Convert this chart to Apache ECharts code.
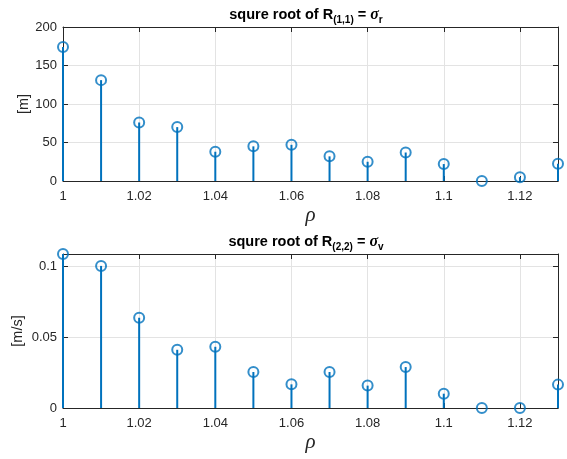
<!DOCTYPE html>
<html>
<head>
<meta charset="utf-8">
<script src="https://cdn.jsdelivr.net/npm/echarts@6/dist/echarts.min.js"></script>
<style>html,body{margin:0;padding:0;background:#fff}#c{width:567px;height:459px}</style>
</head>
<body>
<div id="c"></div>
<script>
// ---- data ----
const rho = [1.00, 1.01, 1.02, 1.03, 1.04, 1.05, 1.06, 1.07, 1.08, 1.09, 1.10, 1.11, 1.12, 1.13];
const sigmaR = [174, 131, 76, 70, 38, 45, 47, 32, 25, 37, 22, 0, 5, 22.5];
const sigmaV = [0.1087, 0.1003, 0.0637, 0.0411, 0.0432, 0.0254, 0.0167, 0.0254, 0.0158, 0.0289, 0.0101, 0, 0, 0.0165];
const xMin = 1.00, xMax = 1.13, xStep = 0.02;
const yTopTicks = [0, 50, 100, 150, 200];
const yBotTicks = [0, 0.05, 0.1];
const yBotMax = 0.1087;
const xName = 'ρ';
const yTopName = '[m]';
const yBotName = '[m/s]';

const BLUE = '#0072BD';
const AX = '#262626';
const GRIDC = '#e3e3e3';
const FONT = 'Liberation Sans, Arial, sans-serif';

const chart = echarts.init(document.getElementById('c'), null, {renderer: 'canvas'});

function pairs(ys) { return rho.map((x, i) => [x, ys[i]]); }

function titleRich() {
  return {
    b: {fontFamily: FONT, fontWeight: 'bold', fontSize: 14.5, color: '#000', lineHeight: 16, verticalAlign: 'top'},
    sub: {fontFamily: FONT, fontWeight: 'bold', fontSize: 10, color: '#000', lineHeight: 12, padding: [8, 0, 0, 0], verticalAlign: 'top'},
    sig: {fontFamily: 'Liberation Serif, serif', fontStyle: 'italic', fontSize: 16, color: '#000', lineHeight: 16, verticalAlign: 'top'}
  };
}

function xAxes(gi) {
  return [
    {
      type: 'value', gridIndex: gi, min: xMin, max: xMax, interval: xStep,
      name: xName, nameLocation: 'middle', nameGap: 24, nameMoveOverlap: false,
      nameTextStyle: {fontFamily: 'Liberation Serif, serif', fontStyle: 'italic', fontSize: 21, color: AX},
      axisLine: {show: true, onZero: false, lineStyle: {color: AX, width: 1}},
      axisTick: {show: true, inside: true, length: 5, lineStyle: {color: AX}},
      axisLabel: {show: true, fontFamily: FONT, fontSize: 13, color: AX, margin: 9, showMaxLabel: false,
        formatter: v => String(+v.toFixed(2))},
      splitLine: {show: true, lineStyle: {color: GRIDC, width: 1}}
    },
    {
      type: 'value', gridIndex: gi, position: 'top', min: xMin, max: xMax, interval: xStep,
      axisLine: {show: true, onZero: false, lineStyle: {color: AX, width: 1}},
      axisTick: {show: true, inside: true, length: 5, lineStyle: {color: AX}},
      axisLabel: {show: false}, splitLine: {show: false}
    }
  ];
}

function yAxes(gi, max, interval, name, gap, fmt) {
  return [
    {
      type: 'value', gridIndex: gi, min: 0, max: max, interval: interval,
      name: name, nameLocation: 'middle', nameGap: gap, nameRotate: 90, nameMoveOverlap: false,
      nameTextStyle: {fontFamily: FONT, fontSize: 14.5, color: AX},
      axisLine: {show: true, onZero: false, lineStyle: {color: AX, width: 1}},
      axisTick: {show: true, inside: true, length: 5, lineStyle: {color: AX}},
      axisLabel: {show: true, fontFamily: FONT, fontSize: 13, color: AX, margin: 6, showMaxLabel: max === 200, formatter: fmt},
      splitLine: {show: true, lineStyle: {color: GRIDC, width: 1}}
    },
    {
      type: 'value', gridIndex: gi, position: 'right', min: 0, max: max, interval: interval,
      axisLine: {show: true, onZero: false, lineStyle: {color: AX, width: 1}},
      axisTick: {show: true, inside: true, length: 5, lineStyle: {color: AX}},
      axisLabel: {show: false}, splitLine: {show: false}
    }
  ];
}

function stemSeries(xi, yi, data) {
  return [
    {
      type: 'bar', xAxisIndex: xi, yAxisIndex: yi, data: data, barWidth: 2, clip: false,
      itemStyle: {color: BLUE}, silent: true, animation: false
    },
    {
      type: 'scatter', xAxisIndex: xi, yAxisIndex: yi, data: data, symbol: 'circle', symbolSize: 10, clip: false,
      itemStyle: {color: 'rgba(255,255,255,0)', borderColor: BLUE, borderWidth: 2}, silent: true, animation: false, z: 5
    }
  ];
}

const option = {
  backgroundColor: '#fff',
  animation: false,
  title: [
    {text: '{b|squre root of R}{sub|(1,1)}{b| = }{sig|σ}{sub|r}', left: 301, top: 2, textAlign: 'center',
     textStyle: {rich: titleRich()}},
    {text: '{b|squre root of R}{sub|(2,2)}{b| = }{sig|σ}{sub|v}', left: 301, top: 229, textAlign: 'center',
     textStyle: {rich: titleRich()}}
  ],
  grid: [
    {left: 63, right: 9, top: 27, height: 154, containLabel: false},
    {left: 63, right: 9, top: 254, height: 154, containLabel: false}
  ],
  xAxis: [...xAxes(0), ...xAxes(1)],
  yAxis: [
    ...yAxes(0, 200, 50, yTopName, 32, v => String(v)),
    ...yAxes(1, yBotMax, 0.05, yBotName, 38, v => String(+v.toFixed(2)))
  ],
  series: [
    ...stemSeries(0, 0, pairs(sigmaR)),
    ...stemSeries(2, 2, pairs(sigmaV))
  ]
};
chart.setOption(option);
</script>
</body>
</html>
